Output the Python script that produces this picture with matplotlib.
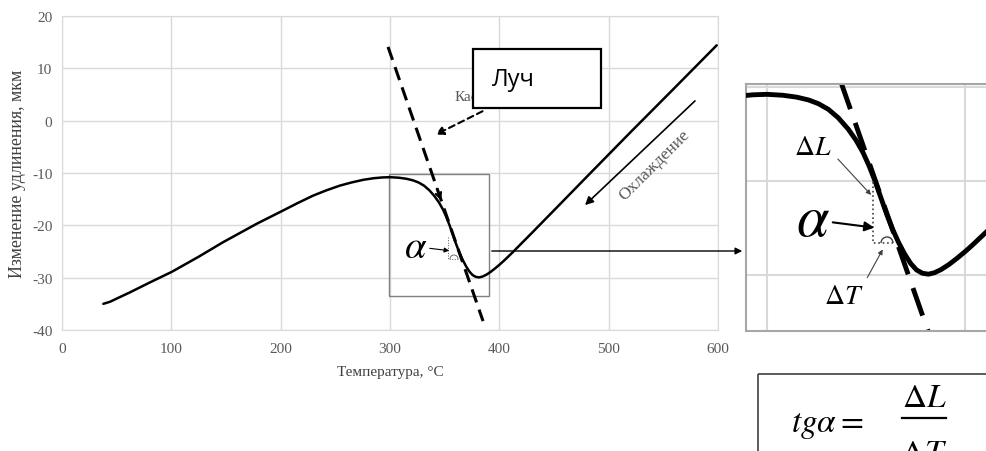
import matplotlib
matplotlib.use("Agg")
import matplotlib.pyplot as plt
from matplotlib.patches import Rectangle, Arc

plt.rcParams["font.family"] = ["Liberation Serif", "DejaVu Serif"]
plt.rcParams["mathtext.fontset"] = "stix"
plt.rcParams["axes.unicode_minus"] = False

# curve: temperature (°C) and elongation change (µm)
temp = [37.8, 44, 50, 62.2, 80, 100.3, 125, 147.5, 165, 178.1, 200, 215, 229.9, 242,
        254.3, 265, 275.6, 285, 293, 300, 308, 315, 321, 326, 331, 336, 341, 345,
        348.5, 351.5, 354.5, 357.5, 360.5, 363.5, 366.5, 369.5, 372.5, 375.5, 378.5,
        381.5, 384.5, 388, 392, 396, 400, 404, 408, 412, 416, 430, 452.5, 482.9,
        520, 560, 598.8]
elong = [-35.0, -34.6, -34.0, -32.8, -30.95, -28.9, -26.0, -23.2, -21.2, -19.7, -17.4, -15.8,
         -14.3, -13.3, -12.4, -11.8, -11.3, -11.0, -10.85, -10.8, -10.9, -11.1, -11.4, -11.8,
         -12.4, -13.3, -14.5, -15.7, -17.0, -18.4, -20.0, -21.8, -23.6, -25.2, -26.6, -27.8,
         -28.8, -29.5, -29.85, -29.95, -29.8, -29.45, -28.9, -28.25, -27.55, -26.8, -26.0,
         -25.2, -24.35, -21.4, -16.6, -10.1, -2.2, 6.2, 14.4]

# tangent ("Луч") end points
tangent_t = [298.2, 385.1]
tangent_l = [14.1, -38.3]

# zoomed region
zoom_t = [299.5, 391.0]
zoom_l = [-33.5, -10.2]

x_ticks = [0, 100, 200, 300, 400, 500, 600]
y_ticks = [-40, -30, -20, -10, 0, 10, 20]

W, H = 986, 452
fig = plt.figure(figsize=(W / 100, H / 100), dpi=100)


def box(l, t, r, b):
    return [l / W, 1 - b / H, (r - l) / W, (b - t) / H]


grid_c = "#d9d9d9"
text_c = "#595959"

# main chart
ax = fig.add_axes(box(62, 17, 718, 331))
ax.set_xlim(0, 600)
ax.set_ylim(-40, 20)
ax.set_xticks(x_ticks)
ax.set_yticks(y_ticks)
ax.grid(True, color=grid_c, lw=1)
ax.set_axisbelow(True)
for s in ax.spines.values():
    s.set_color(grid_c)
ax.tick_params(length=0, labelsize=11, colors=text_c)
ax.tick_params(axis="x", pad=9)
ax.tick_params(axis="y", pad=7)
ax.set_xlabel("Температура, °С", fontsize=11, color="#404040", labelpad=7)
ax.set_ylabel("Изменение удлинения, мкм", fontsize=12.9, color="#404040", labelpad=4)

ax.plot(temp, elong, color="black", lw=1.8, solid_capstyle="round", solid_joinstyle="round", zorder=3)
ax.plot(tangent_t, tangent_l, color="black", lw=2.2, ls=(0, (4.5, 2.5)), zorder=3)
ax.add_patch(Rectangle((zoom_t[0], zoom_l[0]), zoom_t[1] - zoom_t[0], zoom_l[1] - zoom_l[0],
                       fill=False, ec="#808080", lw=1, zorder=2))

# zoomed inset
axin = fig.add_axes(box(746, 85, 990, 332))
axin.set_xlim(289.4, 412.6)
axin.set_ylim(-36.0, -9.7)
axin.set_xticks([300, 400])
axin.set_yticks([-30, -20, -10])
axin.tick_params(length=0, labelbottom=False, labelleft=False)
axin.grid(True, color=grid_c, lw=1.5)
for s in axin.spines.values():
    s.set_color("#a6a6a6")
    s.set_linewidth(1.5)
axin.plot(temp, elong, color="black", lw=3.5, solid_capstyle="round", solid_joinstyle="round", zorder=3)
axin.plot(tangent_t, tangent_l, color="black", lw=3.5, ls=(0, (6, 3)), zorder=2)

# overlay in pixel coordinates for annotations
ov = fig.add_axes([0, 0, 1, 1])
ov.set_xlim(0, W)
ov.set_ylim(H, 0)
ov.axis("off")
ov.patch.set_alpha(0)

ov.text(455, 101, "Касательная", fontsize=11, color=text_c, va="baseline", zorder=1)
ov.add_patch(Rectangle((473, 50), 128, 59, fc="white", ec="black", lw=1.6, zorder=2))
ov.text(492, 80, "Луч", fontsize=17, family=["Open Sans", "DejaVu Sans"], va="center", zorder=3)
ov.annotate("", xy=(433, 137), xytext=(485, 111),
            arrowprops=dict(arrowstyle="-|>", ls=(0, (3, 2)), lw=1.5, color="black", mutation_scale=12))
ov.annotate("", xy=(442, 204), xytext=(436, 187),
            arrowprops=dict(arrowstyle="->", lw=1.5, color="black", mutation_scale=10))

ov.annotate("", xy=(583, 208), xytext=(697, 100),
            arrowprops=dict(arrowstyle="-|>", lw=1.2, color="black", mutation_scale=12))
ov.text(654, 166, "Охлаждение", fontsize=12.5, color=text_c, rotation=45,
        ha="center", va="center", rotation_mode="anchor")

# alpha on main chart
ov.text(416, 248, r"$\alpha$", fontsize=28, ha="center", va="center")
ov.annotate("", xy=(452, 252), xytext=(427, 249),
            arrowprops=dict(arrowstyle="-|>", lw=0.8, color="black", mutation_scale=7))
ov.plot([448, 448, 458], [238, 260, 260], color="#595959", lw=0.7, ls=":")
ov.add_patch(Arc((454, 260), 8, 8, theta1=180, theta2=360, color="#595959", lw=0.6))

# connector to inset
ov.annotate("", xy=(745, 252), xytext=(489, 252),
            arrowprops=dict(arrowstyle="-|>", lw=1, color="black", mutation_scale=10))

# inset labels
ov.text(813, 149, r"$\Delta L$", fontsize=20, ha="center", va="center")
ov.annotate("", xy=(873, 198), xytext=(836, 158),
            arrowprops=dict(arrowstyle="-|>", lw=0.8, color="#404040", mutation_scale=7))
ov.text(813, 222, r"$\alpha$", fontsize=42, ha="center", va="center")
ov.annotate("", xy=(877, 229), xytext=(830, 223),
            arrowprops=dict(arrowstyle="-|>", lw=1.5, color="black", mutation_scale=14))
ov.text(844, 298, r"$\Delta T$", fontsize=20, ha="center", va="center")
ov.annotate("", xy=(884, 248), xytext=(866, 281),
            arrowprops=dict(arrowstyle="-|>", lw=0.8, color="#404040", mutation_scale=7))
ov.plot([873, 873, 893], [183, 244, 244], color="#404040", lw=1.2, ls=":")
ov.add_patch(Arc((887, 244), 12, 12, theta1=180, theta2=360, color="#404040", lw=1))

# formula  tgα = ΔL / ΔT
ov.add_patch(Rectangle((758, 375), 240, 90, fill=False, ec="#404040", lw=1.2))
ov.text(863, 432, r"$tg\alpha =$", fontsize=24, ha="right", va="baseline")
ov.text(924, 407, r"$\Delta L$", fontsize=24, ha="center", va="baseline")
ov.plot([902, 946], [419, 419], color="black", lw=1.6)
ov.text(924, 440, r"$\Delta T$", fontsize=24, ha="center", va="top")

fig.savefig("out.png", dpi=100)
